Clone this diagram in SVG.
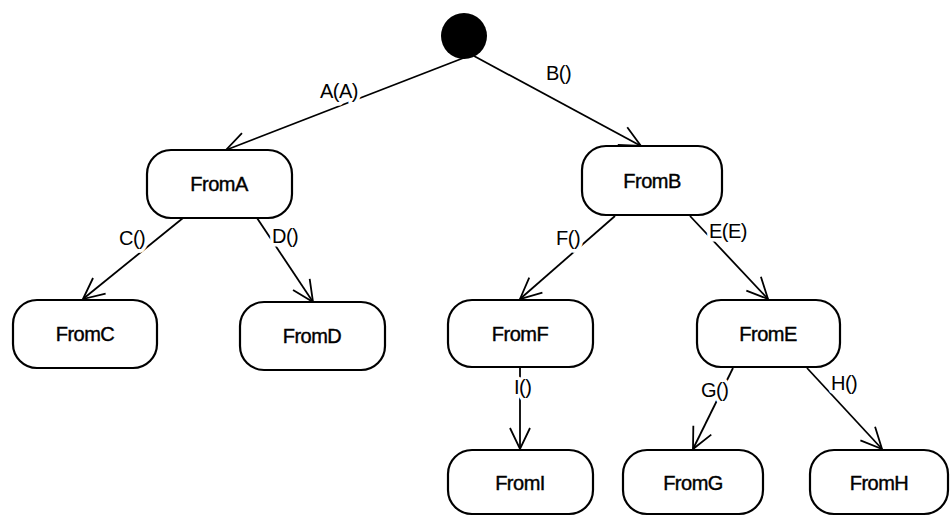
<svg xmlns="http://www.w3.org/2000/svg" width="951" height="516" viewBox="0 0 951 516">
  <style>
    .state rect { fill: #fff; stroke: #000; stroke-width: 2.2; }
    .state text { font-family: "Liberation Sans", Arial, sans-serif; font-size: 20px; text-anchor: middle; fill: #000; stroke: #000; stroke-width: 0.4px; letter-spacing: -0.5px; }
    .edge { stroke: #000; stroke-width: 1.8; fill: none; marker-end: url(#arrow); }
    .lbl { font-family: "Liberation Sans", Arial, sans-serif; font-size: 20px; fill: #000; letter-spacing: -0.5px; }
    .halo { stroke: #fff; stroke-width: 7px; stroke-linejoin: round; fill: #fff; }
  </style>
  <defs>
    <marker id="arrow" markerUnits="userSpaceOnUse" markerWidth="24" markerHeight="24" refX="21" refY="10" orient="auto" overflow="visible">
      <path d="M0,0 L21,10 L0,20" fill="none" stroke="#000" stroke-width="1.8"/>
    </marker>
  </defs>
  <rect width="951" height="516" fill="#fff"/>

  <!-- transitions with their trigger labels -->
  <g id="connectors">
    <line class="edge" x1="466" y1="57" x2="226" y2="150"/>
    <line class="edge" x1="474" y1="56" x2="641" y2="146"/>
    <line class="edge" x1="183" y1="218" x2="83" y2="299"/>
    <line class="edge" x1="257" y1="218" x2="313" y2="302"/>
    <line class="edge" x1="615" y1="216" x2="520" y2="299"/>
    <line class="edge" x1="690" y1="216" x2="768" y2="299"/>
    <line class="edge" x1="520" y1="368" x2="520" y2="449"/>
    <line class="edge" x1="733" y1="368" x2="693" y2="449"/>
    <line class="edge" x1="807" y1="368" x2="882" y2="449"/>
    <g class="lbl">
      <text class="halo" x="320" y="98">A(A)</text><text x="320" y="98">A(A)</text>
      <text x="546" y="80">B()</text>
      <text class="halo" x="119" y="245">C()</text><text x="119" y="245">C()</text>
      <text class="halo" x="272" y="243">D()</text><text x="272" y="243">D()</text>
      <text class="halo" x="556" y="245">F()</text><text x="556" y="245">F()</text>
      <text class="halo" x="709" y="238">E(E)</text><text x="709" y="238">E(E)</text>
      <text class="halo" x="514" y="394">I()</text><text x="514" y="394">I()</text>
      <text class="halo" x="701" y="397">G()</text><text x="701" y="397">G()</text>
      <text class="halo" x="831" y="390">H()</text><text x="831" y="390">H()</text>
    </g>
  </g>

  <!-- initial pseudo-state -->
  <g id="initial">
    <circle cx="464" cy="36" r="23" fill="#000"/>
  </g>

  <!-- states -->
  <g id="FromA" class="state"><rect x="147" y="150" width="145" height="68" rx="24"/><text x="219" y="191">FromA</text></g>
  <g id="FromB" class="state"><rect x="582" y="146" width="140" height="69" rx="24"/><text x="652" y="188">FromB</text></g>
  <g id="FromC" class="state"><rect x="13" y="300" width="144" height="68" rx="24"/><text x="85" y="341">FromC</text></g>
  <g id="FromD" class="state"><rect x="240" y="302" width="145" height="68" rx="24"/><text x="312" y="343">FromD</text></g>
  <g id="FromF" class="state"><rect x="448" y="300" width="145" height="67" rx="24"/><text x="520" y="341">FromF</text></g>
  <g id="FromE" class="state"><rect x="697" y="300" width="143" height="67" rx="24"/><text x="768" y="341">FromE</text></g>
  <g id="FromI" class="state"><rect x="448" y="450" width="145" height="64" rx="24"/><text x="520" y="490">FromI</text></g>
  <g id="FromG" class="state"><rect x="623" y="450" width="140" height="64" rx="24"/><text x="693" y="490">FromG</text></g>
  <g id="FromH" class="state"><rect x="810" y="450" width="138" height="64" rx="24"/><text x="879" y="490">FromH</text></g>
</svg>
